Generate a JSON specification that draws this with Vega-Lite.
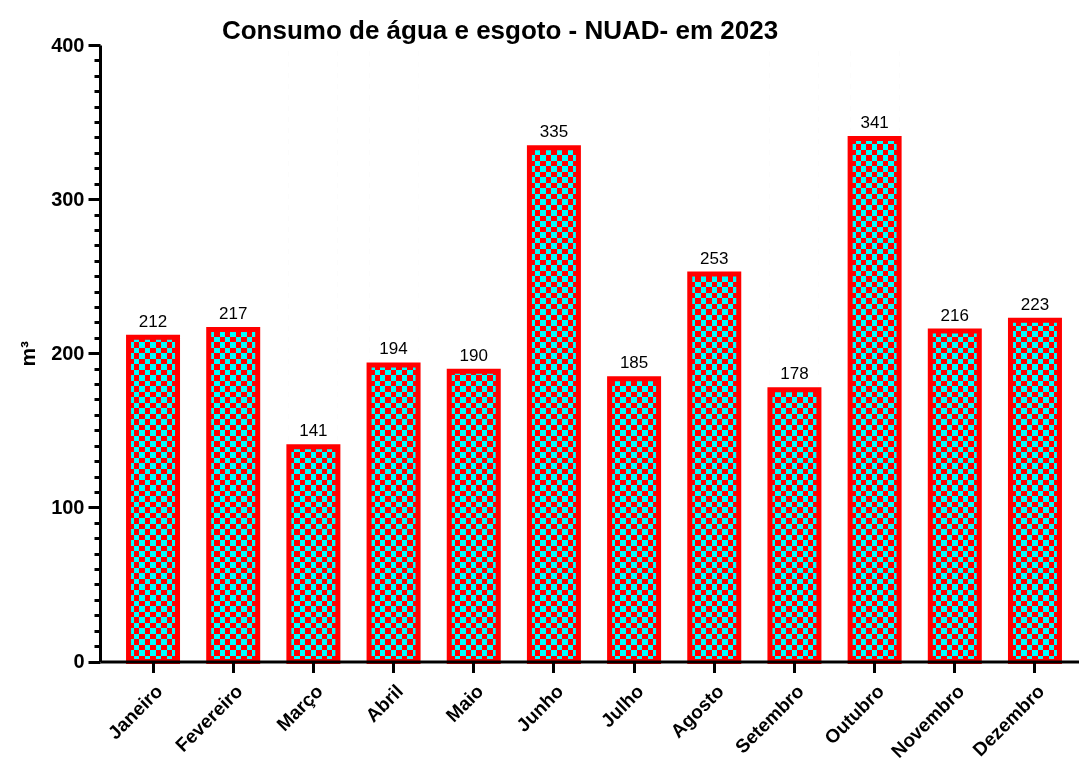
{
  "$schema": "https://vega.github.io/schema/vega-lite/v6.json",
  "width": 988,
  "height": 616.5,
  "autosize": "none",
  "padding": {"left": 100, "top": 45, "right": 0, "bottom": 104},
  "background": "white",
  "config": {"font": "Liberation Sans", "view": {"stroke": null},
    "axisY": {"titleFontSize": 21, "titleFontWeight": "bold", "titleColor": "black", "titlePadding": 12,
      "labelFontSize": 20, "labelFontWeight": "bold", "labelColor": "black", "labelFlush": false, "labelOverlap": false,
      "labelPadding": 4, "domainColor": "black", "domainWidth": 3, "tickColor": "black", "tickWidth": 3, "grid": false, "zindex": 1}},
  "title": {"text": "Consumo de água e esgoto - NUAD- em 2023", "fontSize": 26, "fontWeight": "bold", "anchor": "middle", "dx": -94, "dy": 30, "offset": 0, "baseline": "alphabetic", "color": "black"},
  "data": {"values": [
    {"mes": "Janeiro", "valor": 212},
    {"mes": "Fevereiro", "valor": 217},
    {"mes": "Março", "valor": 141},
    {"mes": "Abril", "valor": 194},
    {"mes": "Maio", "valor": 190},
    {"mes": "Junho", "valor": 335},
    {"mes": "Julho", "valor": 185},
    {"mes": "Agosto", "valor": 253},
    {"mes": "Setembro", "valor": 178},
    {"mes": "Outubro", "valor": 341},
    {"mes": "Novembro", "valor": 216},
    {"mes": "Dezembro", "valor": 223}
  ]},
  "encoding": {
    "x": {"field": "mes", "type": "nominal", "sort": null,
      "scale": {"paddingInner": 0.389, "paddingOuter": 0.356},
      "axis": {"title": null, "labelAngle": -45, "labelFontSize": 19, "labelFontWeight": "bold", "labelColor": "black",
        "domainColor": "black", "domainWidth": 3, "tickColor": "black", "tickWidth": 3, "tickSize": 11,
        "labelOverlap": false, "labelBound": false, "labelPadding": 9, "zindex": 1}}
  },
  "layer": [
    {
      "mark": {"type": "bar", "fill": {"gradient": "linear", "x1": 0, "y1": 0, "x2": 0, "y2": 1, "stops": [
        {"offset":0,"color":"#fff"},{"offset":0.00893,"color":"#fff"},{"offset":0.00893,"color":"#000"},
        {"offset":0.01786,"color":"#000"},{"offset":0.01786,"color":"#fff"},{"offset":0.02679,"color":"#fff"},{"offset":0.02679,"color":"#000"},
        {"offset":0.03571,"color":"#000"},{"offset":0.03571,"color":"#fff"},{"offset":0.04464,"color":"#fff"},{"offset":0.04464,"color":"#000"},
        {"offset":0.05357,"color":"#000"},{"offset":0.05357,"color":"#fff"},{"offset":0.0625,"color":"#fff"},{"offset":0.0625,"color":"#000"},
        {"offset":0.07143,"color":"#000"},{"offset":0.07143,"color":"#fff"},{"offset":0.08036,"color":"#fff"},{"offset":0.08036,"color":"#000"},
        {"offset":0.08929,"color":"#000"},{"offset":0.08929,"color":"#fff"},{"offset":0.09821,"color":"#fff"},{"offset":0.09821,"color":"#000"},
        {"offset":0.10714,"color":"#000"},{"offset":0.10714,"color":"#fff"},{"offset":0.11607,"color":"#fff"},{"offset":0.11607,"color":"#000"},
        {"offset":0.125,"color":"#000"},{"offset":0.125,"color":"#fff"},{"offset":0.13393,"color":"#fff"},{"offset":0.13393,"color":"#000"},
        {"offset":0.14286,"color":"#000"},{"offset":0.14286,"color":"#fff"},{"offset":0.15179,"color":"#fff"},{"offset":0.15179,"color":"#000"},
        {"offset":0.16071,"color":"#000"},{"offset":0.16071,"color":"#fff"},{"offset":0.16964,"color":"#fff"},{"offset":0.16964,"color":"#000"},
        {"offset":0.17857,"color":"#000"},{"offset":0.17857,"color":"#fff"},{"offset":0.1875,"color":"#fff"},{"offset":0.1875,"color":"#000"},
        {"offset":0.19643,"color":"#000"},{"offset":0.19643,"color":"#fff"},{"offset":0.20536,"color":"#fff"},{"offset":0.20536,"color":"#000"},
        {"offset":0.21429,"color":"#000"},{"offset":0.21429,"color":"#fff"},{"offset":0.22321,"color":"#fff"},{"offset":0.22321,"color":"#000"},
        {"offset":0.23214,"color":"#000"},{"offset":0.23214,"color":"#fff"},{"offset":0.24107,"color":"#fff"},{"offset":0.24107,"color":"#000"},
        {"offset":0.25,"color":"#000"},{"offset":0.25,"color":"#fff"},{"offset":0.25893,"color":"#fff"},{"offset":0.25893,"color":"#000"},
        {"offset":0.26786,"color":"#000"},{"offset":0.26786,"color":"#fff"},{"offset":0.27679,"color":"#fff"},{"offset":0.27679,"color":"#000"},
        {"offset":0.28571,"color":"#000"},{"offset":0.28571,"color":"#fff"},{"offset":0.29464,"color":"#fff"},{"offset":0.29464,"color":"#000"},
        {"offset":0.30357,"color":"#000"},{"offset":0.30357,"color":"#fff"},{"offset":0.3125,"color":"#fff"},{"offset":0.3125,"color":"#000"},
        {"offset":0.32143,"color":"#000"},{"offset":0.32143,"color":"#fff"},{"offset":0.33036,"color":"#fff"},{"offset":0.33036,"color":"#000"},
        {"offset":0.33929,"color":"#000"},{"offset":0.33929,"color":"#fff"},{"offset":0.34821,"color":"#fff"},{"offset":0.34821,"color":"#000"},
        {"offset":0.35714,"color":"#000"},{"offset":0.35714,"color":"#fff"},{"offset":0.36607,"color":"#fff"},{"offset":0.36607,"color":"#000"},
        {"offset":0.375,"color":"#000"},{"offset":0.375,"color":"#fff"},{"offset":0.38393,"color":"#fff"},{"offset":0.38393,"color":"#000"},
        {"offset":0.39286,"color":"#000"},{"offset":0.39286,"color":"#fff"},{"offset":0.40179,"color":"#fff"},{"offset":0.40179,"color":"#000"},
        {"offset":0.41071,"color":"#000"},{"offset":0.41071,"color":"#fff"},{"offset":0.41964,"color":"#fff"},{"offset":0.41964,"color":"#000"},
        {"offset":0.42857,"color":"#000"},{"offset":0.42857,"color":"#fff"},{"offset":0.4375,"color":"#fff"},{"offset":0.4375,"color":"#000"},
        {"offset":0.44643,"color":"#000"},{"offset":0.44643,"color":"#fff"},{"offset":0.45536,"color":"#fff"},{"offset":0.45536,"color":"#000"},
        {"offset":0.46429,"color":"#000"},{"offset":0.46429,"color":"#fff"},{"offset":0.47321,"color":"#fff"},{"offset":0.47321,"color":"#000"},
        {"offset":0.48214,"color":"#000"},{"offset":0.48214,"color":"#fff"},{"offset":0.49107,"color":"#fff"},{"offset":0.49107,"color":"#000"},
        {"offset":0.5,"color":"#000"},{"offset":0.5,"color":"#fff"},{"offset":0.50893,"color":"#fff"},{"offset":0.50893,"color":"#000"},
        {"offset":0.51786,"color":"#000"},{"offset":0.51786,"color":"#fff"},{"offset":0.52679,"color":"#fff"},{"offset":0.52679,"color":"#000"},
        {"offset":0.53571,"color":"#000"},{"offset":0.53571,"color":"#fff"},{"offset":0.54464,"color":"#fff"},{"offset":0.54464,"color":"#000"},
        {"offset":0.55357,"color":"#000"},{"offset":0.55357,"color":"#fff"},{"offset":0.5625,"color":"#fff"},{"offset":0.5625,"color":"#000"},
        {"offset":0.57143,"color":"#000"},{"offset":0.57143,"color":"#fff"},{"offset":0.58036,"color":"#fff"},{"offset":0.58036,"color":"#000"},
        {"offset":0.58929,"color":"#000"},{"offset":0.58929,"color":"#fff"},{"offset":0.59821,"color":"#fff"},{"offset":0.59821,"color":"#000"},
        {"offset":0.60714,"color":"#000"},{"offset":0.60714,"color":"#fff"},{"offset":0.61607,"color":"#fff"},{"offset":0.61607,"color":"#000"},
        {"offset":0.625,"color":"#000"},{"offset":0.625,"color":"#fff"},{"offset":0.63393,"color":"#fff"},{"offset":0.63393,"color":"#000"},
        {"offset":0.64286,"color":"#000"},{"offset":0.64286,"color":"#fff"},{"offset":0.65179,"color":"#fff"},{"offset":0.65179,"color":"#000"},
        {"offset":0.66071,"color":"#000"},{"offset":0.66071,"color":"#fff"},{"offset":0.66964,"color":"#fff"},{"offset":0.66964,"color":"#000"},
        {"offset":0.67857,"color":"#000"},{"offset":0.67857,"color":"#fff"},{"offset":0.6875,"color":"#fff"},{"offset":0.6875,"color":"#000"},
        {"offset":0.69643,"color":"#000"},{"offset":0.69643,"color":"#fff"},{"offset":0.70536,"color":"#fff"},{"offset":0.70536,"color":"#000"},
        {"offset":0.71429,"color":"#000"},{"offset":0.71429,"color":"#fff"},{"offset":0.72321,"color":"#fff"},{"offset":0.72321,"color":"#000"},
        {"offset":0.73214,"color":"#000"},{"offset":0.73214,"color":"#fff"},{"offset":0.74107,"color":"#fff"},{"offset":0.74107,"color":"#000"},
        {"offset":0.75,"color":"#000"},{"offset":0.75,"color":"#fff"},{"offset":0.75893,"color":"#fff"},{"offset":0.75893,"color":"#000"},
        {"offset":0.76786,"color":"#000"},{"offset":0.76786,"color":"#fff"},{"offset":0.77679,"color":"#fff"},{"offset":0.77679,"color":"#000"},
        {"offset":0.78571,"color":"#000"},{"offset":0.78571,"color":"#fff"},{"offset":0.79464,"color":"#fff"},{"offset":0.79464,"color":"#000"},
        {"offset":0.80357,"color":"#000"},{"offset":0.80357,"color":"#fff"},{"offset":0.8125,"color":"#fff"},{"offset":0.8125,"color":"#000"},
        {"offset":0.82143,"color":"#000"},{"offset":0.82143,"color":"#fff"},{"offset":0.83036,"color":"#fff"},{"offset":0.83036,"color":"#000"},
        {"offset":0.83929,"color":"#000"},{"offset":0.83929,"color":"#fff"},{"offset":0.84821,"color":"#fff"},{"offset":0.84821,"color":"#000"},
        {"offset":0.85714,"color":"#000"},{"offset":0.85714,"color":"#fff"},{"offset":0.86607,"color":"#fff"},{"offset":0.86607,"color":"#000"},
        {"offset":0.875,"color":"#000"},{"offset":0.875,"color":"#fff"},{"offset":0.88393,"color":"#fff"},{"offset":0.88393,"color":"#000"},
        {"offset":0.89286,"color":"#000"},{"offset":0.89286,"color":"#fff"},{"offset":0.90179,"color":"#fff"},{"offset":0.90179,"color":"#000"},
        {"offset":0.91071,"color":"#000"},{"offset":0.91071,"color":"#fff"},{"offset":0.91964,"color":"#fff"},{"offset":0.91964,"color":"#000"},
        {"offset":0.92857,"color":"#000"},{"offset":0.92857,"color":"#fff"},{"offset":0.9375,"color":"#fff"},{"offset":0.9375,"color":"#000"},
        {"offset":0.94643,"color":"#000"},{"offset":0.94643,"color":"#fff"},{"offset":0.95536,"color":"#fff"},{"offset":0.95536,"color":"#000"},
        {"offset":0.96429,"color":"#000"},{"offset":0.96429,"color":"#fff"},{"offset":0.97321,"color":"#fff"},{"offset":0.97321,"color":"#000"},
        {"offset":0.98214,"color":"#000"},{"offset":0.98214,"color":"#fff"},{"offset":0.99107,"color":"#fff"},{"offset":0.99107,"color":"#000"},
        {"offset":1,"color":"#000"}
      ]}},
      "encoding": {
        "y": {"datum": 400, "type": "quantitative", "scale": {"domain": [0, 400], "nice": false},
          "axis": {"title": "m³", "values": [0,10,20,30,40,50,60,70,80,90,100,110,120,130,140,150,160,170,180,190,200,210,220,230,240,250,260,270,280,290,300,310,320,330,340,350,360,370,380,390,400],
            "labelExpr": "datum.value % 100 === 0 ? datum.label : ''",
            "tickSize": {"condition": {"test": "datum.value % 100 === 0", "value": 12}, "value": 6}}},
        "y2": {"datum": 0}
      }
    },
    {
      "mark": {"type": "bar", "blend": "difference", "fill": {"gradient": "linear", "x1": 0, "y1": 0, "x2": 1, "y2": 0, "stops": [
        {"offset":0,"color":"#ff0000"},{"offset":0.11111,"color":"#ff0000"},{"offset":0.11111,"color":"#00ffff"},
        {"offset":0.22222,"color":"#00ffff"},{"offset":0.22222,"color":"#ff0000"},{"offset":0.33333,"color":"#ff0000"},{"offset":0.33333,"color":"#00ffff"},
        {"offset":0.44444,"color":"#00ffff"},{"offset":0.44444,"color":"#ff0000"},{"offset":0.55556,"color":"#ff0000"},{"offset":0.55556,"color":"#00ffff"},
        {"offset":0.66667,"color":"#00ffff"},{"offset":0.66667,"color":"#ff0000"},{"offset":0.77778,"color":"#ff0000"},{"offset":0.77778,"color":"#00ffff"},
        {"offset":0.88889,"color":"#00ffff"},{"offset":0.88889,"color":"#ff0000"},{"offset":1,"color":"#ff0000"}
      ]}},
      "encoding": {
        "y": {"field": "valor", "type": "quantitative",
          "axis": {"title": "m³", "values": [0,10,20,30,40,50,60,70,80,90,100,110,120,130,140,150,160,170,180,190,200,210,220,230,240,250,260,270,280,290,300,310,320,330,340,350,360,370,380,390,400],
            "labelExpr": "datum.value % 100 === 0 ? datum.label : ''",
            "tickSize": {"condition": {"test": "datum.value % 100 === 0", "value": 12}, "value": 6}}},
        "y2": {"datum": 0}
      }
    },
    {
      "mark": {"type": "bar", "fill": "white", "stroke": "white", "strokeWidth": 1.5},
      "encoding": {
        "y": {"field": "valor", "type": "quantitative",
          "axis": {"title": "m³", "values": [0,10,20,30,40,50,60,70,80,90,100,110,120,130,140,150,160,170,180,190,200,210,220,230,240,250,260,270,280,290,300,310,320,330,340,350,360,370,380,390,400],
            "labelExpr": "datum.value % 100 === 0 ? datum.label : ''",
            "tickSize": {"condition": {"test": "datum.value % 100 === 0", "value": 12}, "value": 6}}},
        "y2": {"datum": 400}
      }
    },
    {
      "mark": {"type": "bar", "filled": false, "stroke": "#ff0000", "strokeWidth": 5, "yOffset": 2.5},
      "encoding": {
        "y": {"field": "valor", "type": "quantitative",
          "axis": {"title": "m³", "values": [0,10,20,30,40,50,60,70,80,90,100,110,120,130,140,150,160,170,180,190,200,210,220,230,240,250,260,270,280,290,300,310,320,330,340,350,360,370,380,390,400],
            "labelExpr": "datum.value % 100 === 0 ? datum.label : ''",
            "tickSize": {"condition": {"test": "datum.value % 100 === 0", "value": 12}, "value": 6}}},
        "y2": {"datum": 0}
      }
    },
    {
      "mark": {"type": "text", "fontSize": 17, "color": "black", "baseline": "alphabetic", "dy": -8},
      "encoding": {
        "y": {"field": "valor", "type": "quantitative",
          "axis": {"title": "m³", "values": [0,10,20,30,40,50,60,70,80,90,100,110,120,130,140,150,160,170,180,190,200,210,220,230,240,250,260,270,280,290,300,310,320,330,340,350,360,370,380,390,400],
            "labelExpr": "datum.value % 100 === 0 ? datum.label : ''",
            "tickSize": {"condition": {"test": "datum.value % 100 === 0", "value": 12}, "value": 6}}},
        "text": {"field": "valor", "type": "quantitative"}
      }
    }
  ]
}
